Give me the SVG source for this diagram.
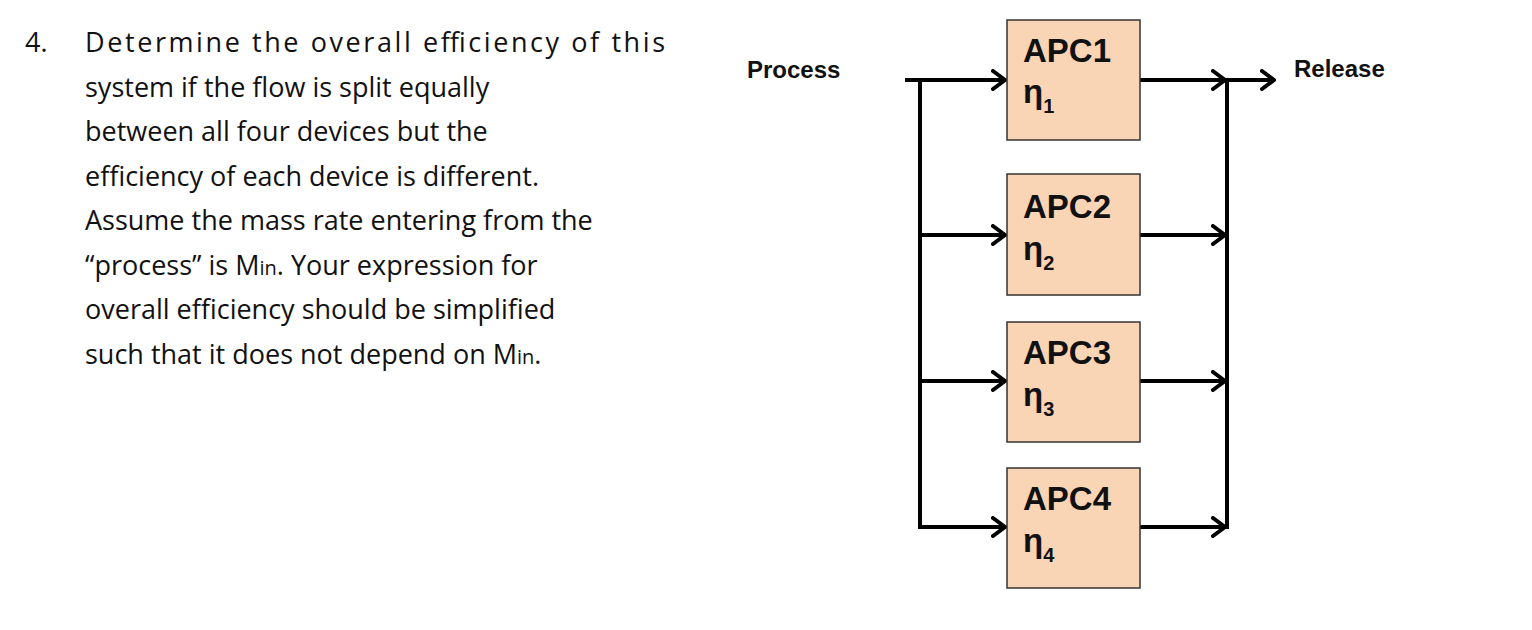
<svg xmlns="http://www.w3.org/2000/svg" width="1532" height="630" viewBox="0 0 1532 630">
<style>
.q{font-family:"Open Sans","Liberation Sans",sans-serif;font-size:27px;fill:#111}
.b{font-family:"Liberation Sans",Arial,sans-serif;font-weight:bold;fill:#111}
.box{fill:#f9d5b5;stroke:#333;stroke-width:1.5}
.ln{stroke:#000;stroke-width:4;fill:none}
</style>
<defs><marker id="ah" markerWidth="16" markerHeight="22" refX="14" refY="11" orient="auto" markerUnits="userSpaceOnUse"><path d="M2,2 L14,11 L2,20" fill="none" stroke="#000" stroke-width="4" stroke-linecap="round"/></marker></defs>
<rect width="1532" height="630" fill="#fff"/>
<g id="question" class="q">
<text x="25" y="52">4.</text>
<text x="85" y="52" textLength="580">Determine the overall efficiency of this</text>
<text x="85" y="97">system if the flow is split equally</text>
<text x="85" y="141">between all four devices but the</text>
<text x="85" y="186">efficiency of each device is different.</text>
<text x="85" y="230">Assume the mass rate entering from the</text>
<text x="85" y="275">“process” is M<tspan font-size="20">in</tspan>. Your expression for</text>
<text x="85" y="319">overall efficiency should be simplified</text>
<text x="85" y="364">such that it does not depend on M<tspan font-size="20">in</tspan>.</text>
</g>
<g id="labels" class="b" font-size="24">
<text x="747" y="78">Process</text>
<text x="1294" y="77">Release</text>
</g>
<g id="connectors" class="ln">
<path d="M905,80 H1005" marker-end="url(#ah)"/>
<path d="M920,80 V529"/>
<path d="M920,235 H1005" marker-end="url(#ah)"/>
<path d="M920,381 H1005" marker-end="url(#ah)"/>
<path d="M920,527 H1005" marker-end="url(#ah)"/>
<path d="M1140,80 H1225" marker-end="url(#ah)"/>
<path d="M1140,235 H1225" marker-end="url(#ah)"/>
<path d="M1140,381 H1225" marker-end="url(#ah)"/>
<path d="M1140,527 H1225" marker-end="url(#ah)"/>
<path d="M1227,78 V529"/>
<path d="M1227,80 H1274" marker-end="url(#ah)"/>
</g>
<g id="apc1"><rect class="box" x="1007" y="20" width="133" height="120"/><text class="b" font-size="33" x="1023" y="62">APC1</text><text class="b" font-size="33" x="1023" y="103">η<tspan font-size="20" dy="10">1</tspan></text></g>
<g id="apc2"><rect class="box" x="1007" y="174" width="133" height="121"/><text class="b" font-size="33" x="1023" y="218">APC2</text><text class="b" font-size="33" x="1023" y="260">η<tspan font-size="20" dy="10">2</tspan></text></g>
<g id="apc3"><rect class="box" x="1007" y="322" width="133" height="120"/><text class="b" font-size="33" x="1023" y="364">APC3</text><text class="b" font-size="33" x="1023" y="406">η<tspan font-size="20" dy="10">3</tspan></text></g>
<g id="apc4"><rect class="box" x="1007" y="468" width="133" height="120"/><text class="b" font-size="33" x="1023" y="510">APC4</text><text class="b" font-size="33" x="1023" y="552">η<tspan font-size="20" dy="10">4</tspan></text></g>
</svg>
